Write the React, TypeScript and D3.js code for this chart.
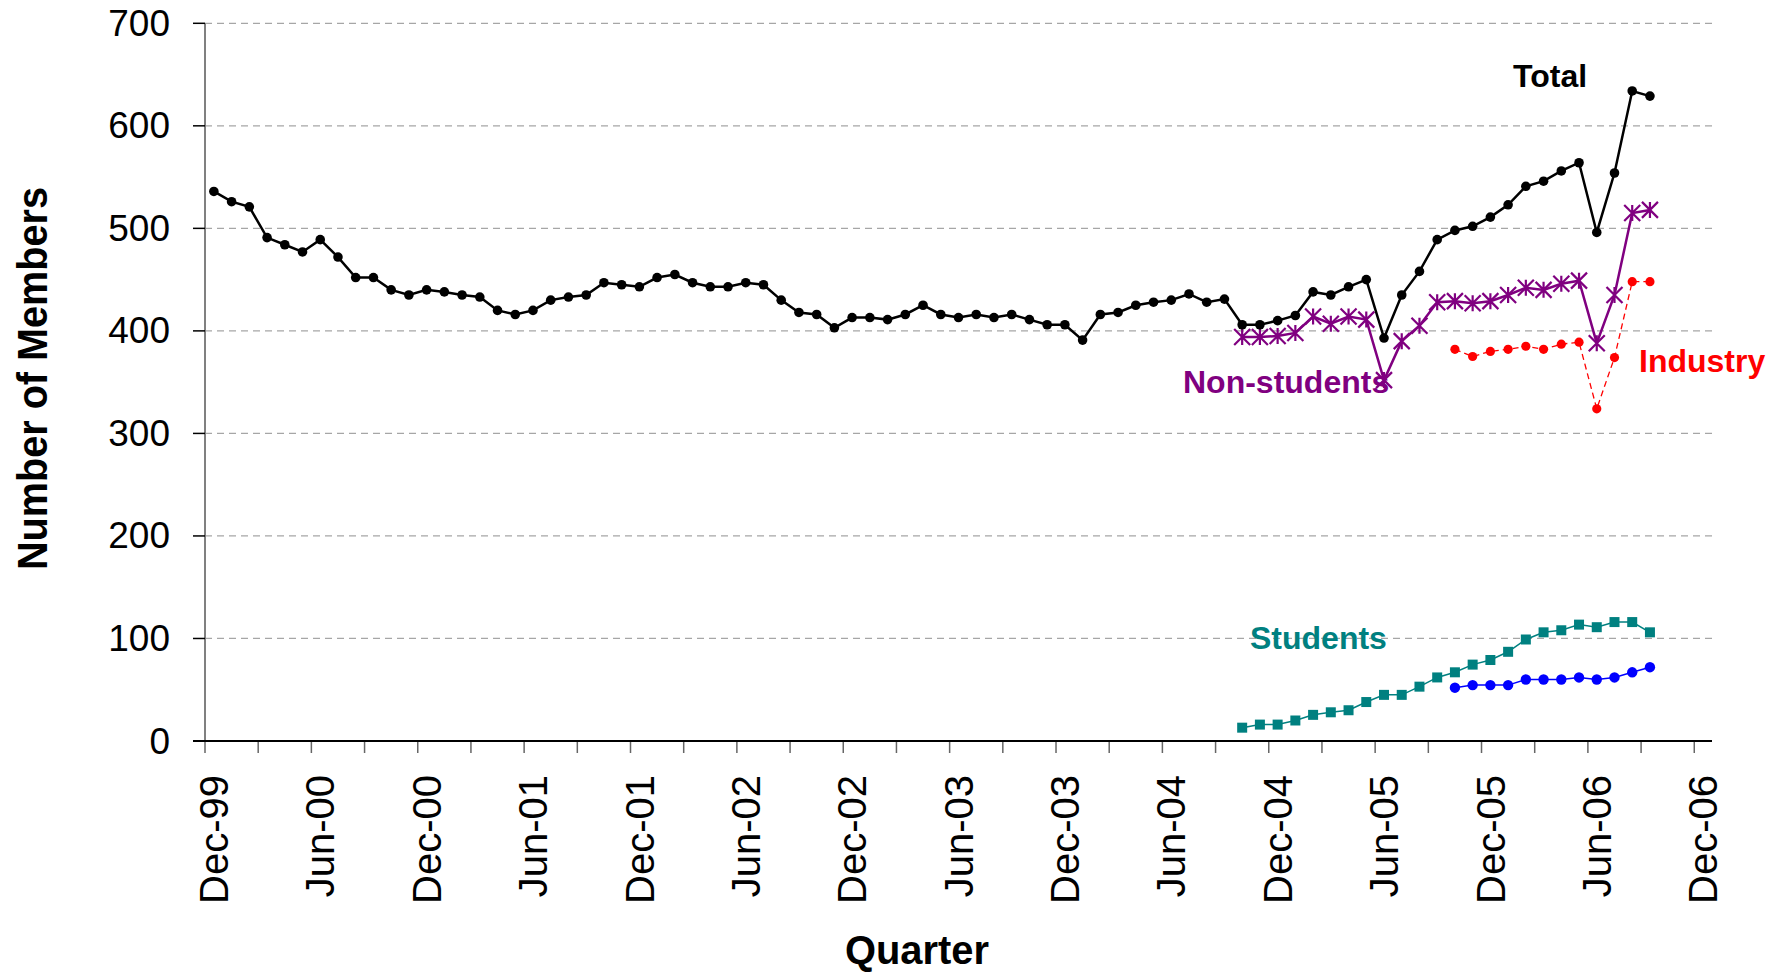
import React from 'react';
import * as d3 from 'd3';

// months counted from Dec-99 (index 0)
const totalStart = 0;
const totalMembers = [
  536, 526, 521, 491, 484, 477, 489, 472, 452, 452, 440, 435,
  440, 438, 435, 433, 420, 416, 420, 430, 433, 435, 447, 445,
  443, 452, 455, 447, 443, 443, 447, 445, 430, 418, 416, 403,
  413, 413, 411, 416, 425, 416, 413, 416, 413, 416, 411, 406,
  406, 391, 416, 418, 425, 428, 430, 436, 428, 431, 406, 406,
  410, 415, 438, 435, 443, 450, 393, 435, 458, 489, 498, 502,
  511, 523, 541, 546, 556, 564, 496, 554, 634, 629,
];

const nonStudentStart = 58;
const nonStudents = [
  394, 394, 395, 398, 414, 407, 414, 411, 352, 390, 405, 428,
  429, 427, 429, 435, 442, 440, 446, 449, 388, 435, 515, 518,
];

const studentStart = 58;
const students = [
  13, 16, 16, 20, 25.5, 28, 30, 38, 45, 45, 53, 62,
  67, 74.5, 79, 87, 99, 106, 108, 113.5, 111, 116, 116, 106,
];

const industryStart = 70;
const industry = [382, 375, 380, 382, 385, 382, 387, 389, 324, 374, 448, 448];

const otherStart = 70;
const other = [52, 54.5, 54.5, 54.5, 60, 60, 60, 62, 60, 62, 67, 72];

const yTicks = [0, 100, 200, 300, 400, 500, 600, 700];
const monthNames = ['Dec', 'Mar', 'Jun', 'Sep'];

const W = 1778;
const H = 976;
const FONT = 'Liberation Sans, Arial, sans-serif';

const x = d3.scaleLinear().domain([0, 85]).range([205, 1712]);
const y = d3.scaleLinear().domain([0, 700]).range([741, 23.3]);

const lineFor = (start: number) =>
  d3
    .line<number>()
    .x((_, i) => x(start + i + 0.5))
    .y((d) => y(d));

const tickMonths = d3.range(0, 85, 3);

const labelFor = (m: number) => {
  const yr = 1999 + Math.floor((m + 11) / 12);
  return `${monthNames[(m / 3) % 4]}-${String(yr % 100).padStart(2, '0')}`;
};

const star = (s: number) =>
  `M${-s},${-s}L${s},${s}M${-s},${s}L${s},${-s}M0,${-s}L0,${s}`;

export default function App() {
  const x0 = x(0);
  const x1 = x(85);

  return (
    <svg
      width={W}
      height={H}
      style={{ position: 'absolute', left: 0, top: 0, background: '#fff' }}
      fontFamily={FONT}
    >
      {/* gridlines */}
      {yTicks.slice(1).map((t) => (
        <line
          key={t}
          x1={x0}
          x2={x1}
          y1={y(t)}
          y2={y(t)}
          stroke="#a6a6a6"
          strokeWidth={1.3}
          strokeDasharray="7,5"
        />
      ))}

      {/* y axis */}
      <line x1={x0} x2={x0} y1={y(700)} y2={y(0)} stroke="#808080" strokeWidth={2} />
      {yTicks.map((t) => (
        <g key={t}>
          <line x1={x0 - 12} x2={x0} y1={y(t)} y2={y(t)} stroke="#000" strokeWidth={1.5} />
          <text
            x={170}
            y={y(t)}
            textAnchor="end"
            dominantBaseline="central"
            fontSize={37}
            fill="#000"
          >
            {t}
          </text>
        </g>
      ))}

      {/* x axis */}
      {tickMonths.map((m) => (
        <line
          key={m}
          x1={x(m)}
          x2={x(m)}
          y1={y(0)}
          y2={y(0) + 12}
          stroke="#666"
          strokeWidth={1.5}
        />
      ))}
      <line x1={x0 - 12} x2={x1} y1={y(0)} y2={y(0)} stroke="#000" strokeWidth={2} />
      {tickMonths
        .filter((m) => m % 6 === 0)
        .map((m) => (
          <text
            key={m}
            transform={`translate(${x(m) + 23},775) rotate(-90)`}
            textAnchor="end"
            fontSize={40}
            fill="#000"
          >
            {labelFor(m)}
          </text>
        ))}

      {/* axis titles */}
      <text
        transform="translate(47,378.5) rotate(-90)"
        textAnchor="middle"
        fontSize={42}
        fontWeight="bold"
        textLength={383}
        lengthAdjust="spacingAndGlyphs"
      >
        Number of Members
      </text>
      <text
        x={917}
        y={964}
        textAnchor="middle"
        fontSize={41}
        fontWeight="bold"
        textLength={144}
        lengthAdjust="spacingAndGlyphs"
      >
        Quarter
      </text>

      {/* Students */}
      <path d={lineFor(studentStart)(students) ?? ''} fill="none" stroke="#008080" strokeWidth={1.5} />
      {students.map((d, i) => (
        <rect
          key={i}
          x={x(studentStart + i + 0.5) - 5}
          y={y(d) - 5}
          width={10}
          height={10}
          fill="#008080"
        />
      ))}

      {/* unlabelled blue series */}
      <path d={lineFor(otherStart)(other) ?? ''} fill="none" stroke="#0000ff" strokeWidth={1.5} />
      {other.map((d, i) => (
        <circle key={i} cx={x(otherStart + i + 0.5)} cy={y(d)} r={5.2} fill="#0000ff" />
      ))}

      {/* Industry */}
      <path
        d={lineFor(industryStart)(industry) ?? ''}
        fill="none"
        stroke="#ff0000"
        strokeWidth={1.3}
        strokeDasharray="6,4"
      />
      {industry.map((d, i) => (
        <circle key={i} cx={x(industryStart + i + 0.5)} cy={y(d)} r={4.6} fill="#ff0000" />
      ))}

      {/* Non-students */}
      <path d={lineFor(nonStudentStart)(nonStudents) ?? ''} fill="none" stroke="#800080" strokeWidth={2.5} />
      {nonStudents.map((d, i) => (
        <path
          key={i}
          transform={`translate(${x(nonStudentStart + i + 0.5)},${y(d)})`}
          d={star(8)}
          stroke="#800080"
          strokeWidth={2.2}
          fill="none"
        />
      ))}

      {/* Total */}
      <path d={lineFor(totalStart)(totalMembers) ?? ''} fill="none" stroke="#000" strokeWidth={2.5} />
      {totalMembers.map((d, i) => (
        <circle key={i} cx={x(totalStart + i + 0.5)} cy={y(d)} r={4.8} fill="#000" />
      ))}

      {/* series labels */}
      <text x={1513} y={87} fontSize={32} fontWeight="bold" fill="#000">
        Total
      </text>
      <text x={1183} y={393} fontSize={32} fontWeight="bold" fill="#800080">
        Non-students
      </text>
      <text x={1639} y={372} fontSize={32} fontWeight="bold" fill="#ff0000">
        Industry
      </text>
      <text x={1250} y={649} fontSize={32} fontWeight="bold" fill="#008080">
        Students
      </text>
    </svg>
  );
}
